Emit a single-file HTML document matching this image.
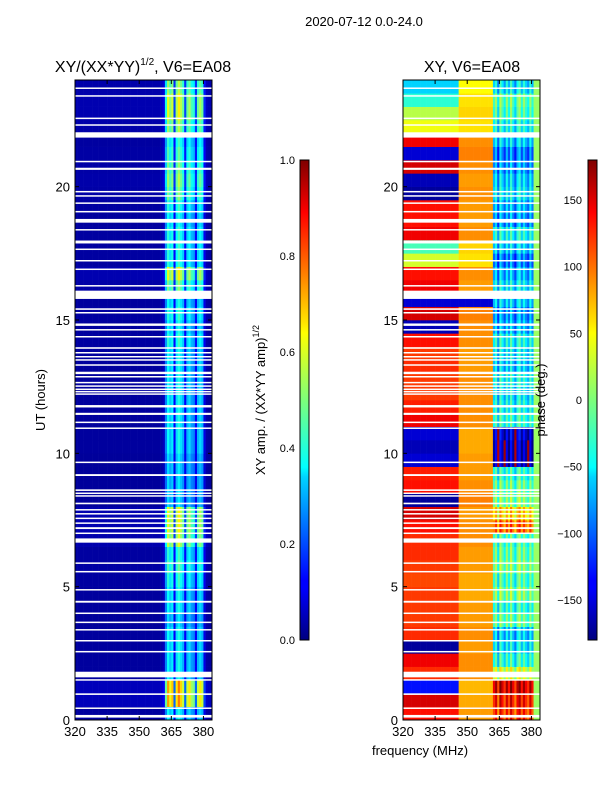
<!DOCTYPE html>
<html><head><meta charset="utf-8"><style>
body{margin:0;background:#fff;}
svg{font-family:"Liberation Sans",sans-serif;}
</style></head><body>
<svg id="fig" width="600" height="800" viewBox="0 0 600 800" xmlns="http://www.w3.org/2000/svg">
<defs>
<linearGradient id="jet" x1="0" y1="1" x2="0" y2="0">
<stop offset="0" stop-color="#00007f"/><stop offset="0.11" stop-color="#0000ff"/><stop offset="0.125" stop-color="#0000ff"/>
<stop offset="0.34" stop-color="#00d4ff"/><stop offset="0.36" stop-color="#0ff"/><stop offset="0.5" stop-color="#7dff7a"/>
<stop offset="0.64" stop-color="#ff0"/><stop offset="0.66" stop-color="#ffe600"/><stop offset="0.89" stop-color="#ff0000"/><stop offset="1" stop-color="#7f0000"/>
</linearGradient>
</defs>
<text x="364" y="26" font-size="13" text-anchor="middle">2020-07-12 0.0-24.0</text>
<text x="143" y="72" font-size="16" text-anchor="middle">XY/(XX*YY)<tspan font-size="10" dy="-7">1/2</tspan><tspan dy="7">, V6=EA08</tspan></text>
<text x="472" y="72" font-size="16" text-anchor="middle">XY, V6=EA08</text>
<g id="ampCells"></g>
<g id="phCells"></g>
<g id="axes"></g>
<rect x="300" y="160" width="9" height="480" fill="url(#jet)" stroke="#000" stroke-width="1"/>
<rect x="588" y="160" width="9" height="480" fill="url(#jet)" stroke="#000" stroke-width="1"/>
<text transform="translate(265,400) rotate(-90)" font-size="13" text-anchor="middle">XY amp. / (XX*YY amp)<tspan font-size="9" dy="-6">1/2</tspan></text>
<text transform="translate(545,400) rotate(-90)" font-size="13" text-anchor="middle">phase (deg.)</text>
<text transform="translate(45,400) rotate(-90)" font-size="13" text-anchor="middle">UT (hours)</text>
<text x="420" y="755" font-size="13" text-anchor="middle">frequency (MHz)</text>
</svg>
<script>
// 64 frequency columns of 1 MHz from 320 to 384
const ampCols=[0.03,0.03,0.03,0.03,0.03,0.03,0.03,0.03,0.03,0.03,0.03,0.03,0.03,0.03,0.03,0.03,0.03,0.03,0.03,0.03,0.03,0.03,0.03,0.03,0.03,0.03,0.03,0.03,0.03,0.03,0.03,0.03,0.03,0.03,0.03,0.03,0.03,0.03,0.03,0.03,0.04,0.06,0.25,0.38,0.32,0.36,0.12,0.34,0.4,0.35,0.3,0.12,0.3,0.34,0.28,0.26,0.12,0.3,0.34,0.3,0.1,0.04,0.03,0.03];
// 48 half-hour rows, amplitude factor
const ampRows=[1.0,1.9,1.9,1.0,1.0,1.0,1.0,0.9,1.0,1.0,1.1,1.2,1.1,1.5,1.6,1.6,0.9,0.9,0.9,0.9,1.0,1.0,1.0,1.0,1.0,1.0,1.0,1.0,1.1,1.0,1.1,1.0,1.3,1.6,1.1,1.1,1.1,1.0,1.1,1.3,1.4,1.3,1.2,1.1,1.4,1.6,1.6,1.4];
const phaseLow=[130,150,-130,120,140,-170,120,115,115,115,110,115,120,120,130,150,-170,130,125,-150,-160,-150,140,125,115,115,120,115,130,-160,150,-150,140,130,30,-20,140,130,130,-170,-160,150,-150,140,40,20,-30,-60];
const phaseMid=[80,75,70,85,85,80,85,80,80,75,75,80,80,85,85,80,90,85,80,80,75,75,85,85,85,85,80,80,85,85,90,-150,80,85,55,60,85,80,80,85,80,85,90,85,55,60,55,45];
const phaseHigh=[110,120,140,20,-40,-60,-70,-20,-40,-10,-30,-10,-20,-30,90,50,-10,-20,-40,-170,-170,-160,-40,-50,-60,-50,-70,-60,-50,-80,-90,-70,-60,-80,-100,-70,-50,-90,-80,-60,-70,-90,-100,-70,-50,-30,-20,-60];
const phaseHighOffset=[0,30,-30,40,10,-20,30,-10,40,0,-30,20,40,-10,30,0,-20,30,-10,20];
const edgePhase=10;
const flags=[[0.09,0.19],[0.44,0.47],[0.94,1.0],[1.5,1.53],[1.6,1.81],[2.56,2.59],[2.95,3.0],[3.38,3.41],[3.66,3.69],[4.0,4.03],[4.4,4.47],[4.88,4.91],[5.56,5.59],[5.88,5.91],[6.65,6.81],[7.0,7.03],[7.16,7.23],[7.38,7.41],[7.56,7.59],[7.73,7.76],[7.88,7.91],[8.09,8.15],[8.4,8.43],[8.5,8.53],[8.59,8.65],[9.15,9.22],[9.66,9.69],[10.94,10.97],[11.16,11.19],[11.44,11.52],[11.72,11.81],[12.22,12.25],[12.31,12.34],[12.4,12.43],[12.52,12.55],[12.65,12.68],[12.87,12.9],[12.97,13.06],[13.31,13.34],[13.5,13.53],[13.62,13.65],[13.77,13.8],[13.92,13.98],[14.37,14.4],[14.63,14.66],[14.78,14.87],[15.27,15.3],[15.38,15.44],[15.79,16.1],[16.28,16.31],[16.9,16.93],[17.22,17.25],[17.65,17.68],[17.87,17.98],[18.38,18.41],[18.65,18.79],[19.06,19.09],[19.38,19.41],[19.65,19.68],[19.81,19.84],[20.63,20.71],[20.94,20.97],[21.84,22.04],[22.31,22.34],[22.56,22.59],[23.4,23.43],[23.69,23.72]];
const yTicks=[0,5,10,15,20];
const xTicks=[320,335,350,365,380];
const ampCbTicks=[0.0,0.2,0.4,0.6,0.8,1.0];
const phCbTicks=[-150,-100,-50,0,50,100,150];

const NS="http://www.w3.org/2000/svg";
const AX={l:75,r:212},BX={l:403,r:540},TOP=80,BOT=720;
function xS(f,ax){return ax.l+(f-320)*(ax.r-ax.l)/64;}
function yS(h){return BOT-h*(BOT-TOP)/24;}
function jet(v){v=Math.max(0,Math.min(1,v));
 const c=x=>Math.round(255*Math.max(0,Math.min(1,x)));
 const r=1.5-Math.abs(4*v-3),g=1.5-Math.abs(4*v-2),b=1.5-Math.abs(4*v-1);
 return `rgb(${c(r)},${c(g)},${c(b)})`;}
function mk(tag,attrs,parent){const e=document.createElementNS(NS,tag);for(const k in attrs)e.setAttribute(k,attrs[k]);parent.appendChild(e);return e;}
const ampG=document.getElementById('ampCells'),phG=document.getElementById('phCells'),axG=document.getElementById('axes');
for(let r=0;r<ampRows.length;r++){
 const y0=yS((r+1)*0.5),y1=yS(r*0.5);
 for(let c=0;c<ampCols.length;c++){
  const f0=320+c,f1=f0+1;
  const a=mk('rect',{x:xS(f0,AX),y:y0,width:xS(f1,AX)-xS(f0,AX)+0.3,height:y1-y0+0.3,fill:jet(ampCols[c]*ampRows[r])},ampG);
  
  
  let p;
  if(c<26)p=phaseLow[r];else if(c<42)p=phaseMid[r];else if(c<61)p=phaseHigh[r]+phaseHighOffset[c-42];else p=edgePhase;
  if(p>180)p-=360;if(p<-180)p+=360;
  const b=mk('rect',{x:xS(f0,BX),y:y0,width:xS(f1,BX)-xS(f0,BX)+0.3,height:y1-y0+0.3,fill:jet((p+180)/360)},phG);
  
  
 }
}
for(const [h0,h1] of flags){
 for(const [ax,g] of [[AX,ampG],[BX,phG]]){
  const w=mk('rect',{x:ax.l,y:yS(h1),width:ax.r-ax.l,height:Math.max(1.5,yS(h0)-yS(h1)),fill:'#fff'},g);
  
  
 }
}
for(const [ax,nm] of [[AX,'amp'],[BX,'phase']]){
 const fr=mk('rect',{x:ax.l,y:TOP,width:ax.r-ax.l,height:BOT-TOP,fill:'none',stroke:'#000','stroke-width':1},axG);
 
 
 for(const t of yTicks){
  const y=yS(t);
  mk('line',{x1:ax.l,x2:ax.l+4,y1:y,y2:y,stroke:'#000'},axG);
  mk('line',{x1:ax.r,x2:ax.r-4,y1:y,y2:y,stroke:'#000'},axG);
  const tx=mk('text',{x:ax.l-5,y:y+5,'font-size':13,'text-anchor':'end'},axG);
  tx.textContent=t;
  
  
 }
 for(const t of xTicks){
  const x=xS(t,ax);
  mk('line',{x1:x,x2:x,y1:BOT,y2:BOT-4,stroke:'#000'},axG);
  mk('line',{x1:x,x2:x,y1:TOP,y2:TOP+4,stroke:'#000'},axG);
  const tx=mk('text',{x:x,y:BOT+16,'font-size':13,'text-anchor':'middle'},axG);
  tx.textContent=t;
  
  
 }
}
for(const t of ampCbTicks){
 const y=640-t*480;
 mk('line',{x1:300,x2:303,y1:y,y2:y,stroke:'#000'},axG);
 mk('line',{x1:309,x2:306,y1:y,y2:y,stroke:'#000'},axG);
 const tx=mk('text',{x:295,y:y+4,'font-size':11,'text-anchor':'end'},axG);
 tx.textContent=t.toFixed(1);
 
 
}
for(const t of phCbTicks){
 const y=400-t*480/360;
 mk('line',{x1:588,x2:591,y1:y,y2:y,stroke:'#000'},axG);
 mk('line',{x1:597,x2:594,y1:y,y2:y,stroke:'#000'},axG);
 const tx=mk('text',{x:582,y:y+4,'font-size':11,'text-anchor':'end'},axG);
 tx.textContent=t<0?'\u2212'+(-t):t;
 
 
}
</script>
</body></html>
